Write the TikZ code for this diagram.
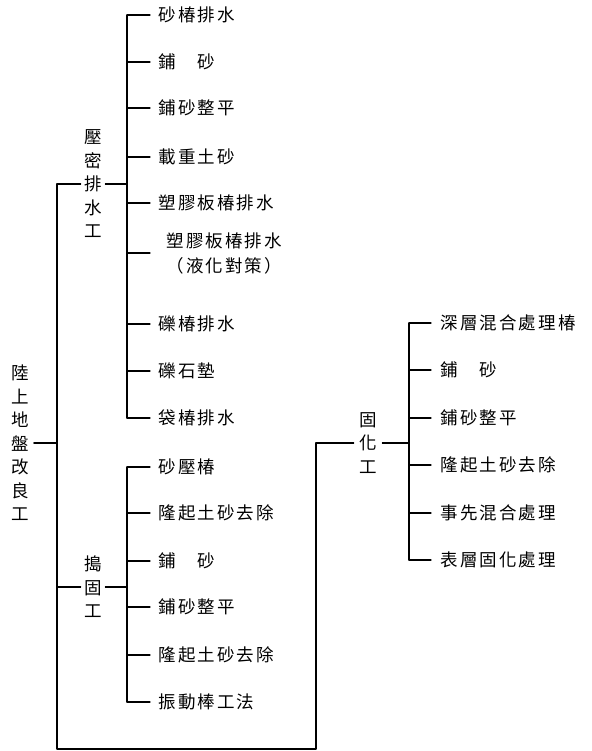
\documentclass[tikz,border=0pt]{standalone}
\usepackage{fontspec}
\newfontfamily\cjk{Noto Sans CJK TC}
\newfontfamily\cjksp[LetterSpace=12]{Noto Sans CJK TC}
\begin{document}
\begin{tikzpicture}[line cap=round,line join=round,x=1pt,y=-1pt,line width=1.1pt,
	leaf/.style={anchor=west,inner sep=4pt,font=\cjksp\fontsize{17.5}{25}\selectfont},
	stack/.style={align=center,inner xsep=3pt,inner ysep=2pt,font=\cjk\fontsize{17.5}{23.5}\selectfont},
	twig/.style={shorten >=4pt}]
	\useasboundingbox (0,0) rectangle (591,751);
	\coordinate (t1) at (57,184);
	\coordinate (t2) at (57,749);
	\coordinate (t3) at (316,749);
	\coordinate (b1) at (127,0);
	\coordinate (b3) at (409,0);
	\node[stack,inner xsep=4.5pt] (root) at (20,443) {陸\\上\\地\\盤\\改\\良\\工};
	\node[stack] (ymps) at (93,184) {壓\\密\\排\\水\\工};
	\node[stack] (dgg) at (93,587) {搗\\固\\工};
	\node[stack,inner xsep=5pt] (ghg) at (368,443) {固\\化\\工};
	\node[leaf] (a1) at (154,15) {砂椿排水};
	\node[leaf] (a2) at (154,62) {鋪　砂};
	\node[leaf] (a3) at (154,108) {鋪砂整平};
	\node[leaf] (a4) at (154,157) {載重土砂};
	\node[leaf] (a5) at (154,203) {塑膠板椿排水};
	\node[leaf,align=center,inner xsep=12pt] (a6) at (154,253) {塑膠板椿排水\\（液化對策）};
	\node[leaf] (a7) at (154,324) {礫椿排水};
	\node[leaf] (a8) at (154,371) {礫石墊};
	\node[leaf] (a9) at (154,418) {袋椿排水};
	\node[leaf] (c1) at (154,467) {砂壓椿};
	\node[leaf] (c2) at (154,513) {隆起土砂去除};
	\node[leaf] (c3) at (154,561) {鋪　砂};
	\node[leaf] (c4) at (154,607) {鋪砂整平};
	\node[leaf] (c5) at (154,655) {隆起土砂去除};
	\node[leaf] (c6) at (154,702) {振動棒工法};
	\node[leaf] (d1) at (436,323) {深層混合處理椿};
	\node[leaf] (d2) at (436,370) {鋪　砂};
	\node[leaf] (d3) at (436,418) {鋪砂整平};
	\node[leaf] (d4) at (436,465) {隆起土砂去除};
	\node[leaf] (d5) at (436,513) {事先混合處理};
	\node[leaf] (d6) at (436,560) {表層固化處理};
	\draw (root.east) -- (root.east -| t1);
	\draw (ymps.west) -- (t1) -- (t2) -- (t3) |- (ghg.west);
	\draw (dgg.west) -- (dgg.west -| t1);
	\draw (ymps.east) -- (ymps.east -| b1);
	\draw (dgg.east) -- (dgg.east -| b1);
	\draw (ghg.east) -- (ghg.east -| b3);
	\draw (a1.west -| b1) -- (a9.west -| b1);
	\draw (c1.west -| b1) -- (c6.west -| b1);
	\draw (d1.west -| b3) -- (d6.west -| b3);
	\foreach \i in {1,...,9}
		\draw[twig] (a\i.west -| b1) -- (a\i.west);
	\foreach \i in {1,...,6} {
		\draw[twig] (c\i.west -| b1) -- (c\i.west);
		\draw[twig,shorten >=5pt] (d\i.west -| b3) -- (d\i.west);
	}
\end{tikzpicture}
\end{document}
